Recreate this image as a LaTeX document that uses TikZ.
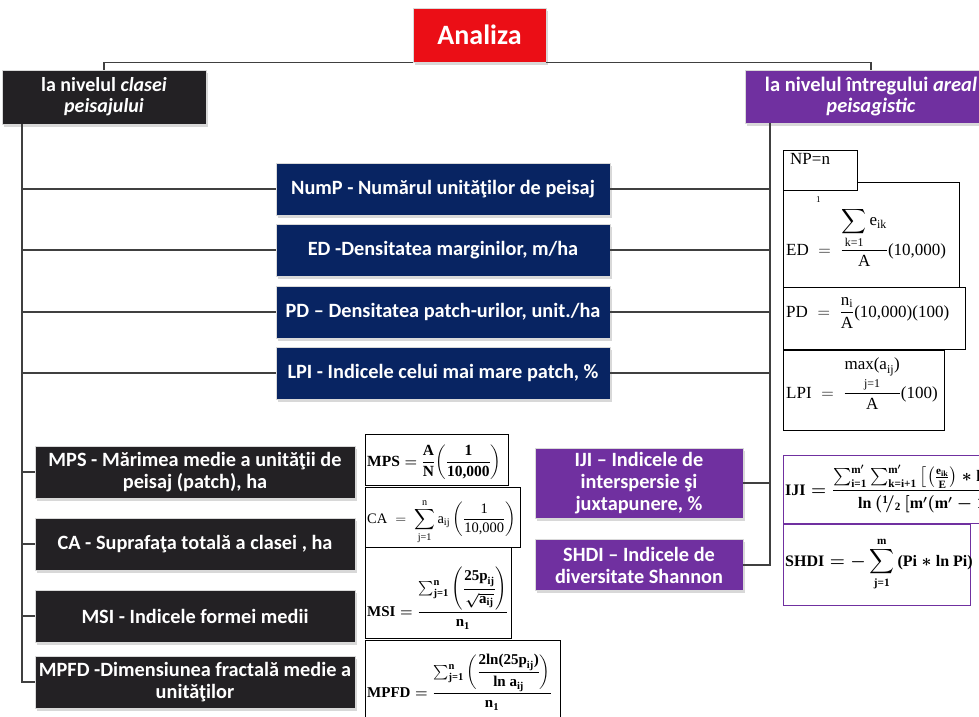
\documentclass[tikz,border=0pt]{standalone}
\usepackage{amsmath}
\usepackage{fontspec}
\setmainfont{Liberation Serif}
\newfontfamily\boxfont{Carlito}
\usetikzlibrary{shadows,calc}
\definecolor{cred}{RGB}{235,14,22}
\definecolor{cdark}{RGB}{35,33,36}
\definecolor{cnavy}{RGB}{8,36,98}
\definecolor{cpurple}{RGB}{112,48,160}
\definecolor{cline}{RGB}{64,64,64}
\newcommand\tx[1]{\text{#1}}
\begin{document}
\begin{tikzpicture}[x=1pt,y=-1pt,
  hbox/.style={text=white, align=center, inner sep=0pt, draw=gray!30, line width=0.8pt,
    font=\boxfont\bfseries\fontsize{20.3}{22}\selectfont,
    drop shadow={shadow xshift=1.5pt,shadow yshift=-2.5pt,fill=black!30}},
  conn/.style={draw=cline, line width=1.8pt},
  fbox/.style={draw=black, fill=white, line width=0.8pt, anchor=north west, inner sep=0pt},
  ftext/.style={anchor=base west, inner sep=0pt, font=\fontsize{17}{20}\selectfont},
  ftextb/.style={anchor=base west, inner sep=0pt, font=\fontsize{16}{19}\selectfont\bfseries\boldmath}]
\path[use as bounding box] (0,0) rectangle (979,716);
\clip (0,0) rectangle (979,716);
\fill[white] (0,0) rectangle (979,716);

% title boxes
\node[hbox, fill=cred, minimum width=133pt, minimum height=54pt,
  font=\boxfont\bfseries\fontsize{28}{30}\selectfont] (ana) at (479.5,35) {Analiza};
\node[hbox, fill=cdark, minimum width=204pt, minimum height=54pt,
  font=\boxfont\bfseries\fontsize{20}{21}\selectfont] (lt) at (104,97) {la nivelul \textit{clasei}\\\textit{peisajului}};
\node[hbox, fill=cpurple, minimum width=252pt, minimum height=53pt,
  font=\boxfont\bfseries\fontsize{20.5}{21}\selectfont] (rt) at (871,96.5) {la nivelul întregului \textit{areal}\\\textit{peisagistic}};

% blue boxes
\node[hbox, fill=cnavy, minimum width=334pt, minimum height=52pt] (nump) at (443,189) {NumP - Numărul unităţilor de peisaj};
\node[hbox, fill=cnavy, minimum width=334pt, minimum height=52pt] (ed) at (443,250) {ED -Densitatea marginilor, m/ha};
\node[hbox, fill=cnavy, minimum width=334pt, minimum height=52pt] (pd) at (443,312) {PD – Densitatea patch-urilor, unit./ha};
\node[hbox, fill=cnavy, minimum width=334pt, minimum height=52pt] (lpi) at (443,373) {LPI - Indicele celui mai mare patch, \%};

% black boxes
\node[hbox, fill=cdark, minimum width=320pt, minimum height=52pt] (mps) at (195,472) {MPS - Mărimea medie a unităţii de\\peisaj (patch), ha};
\node[hbox, fill=cdark, minimum width=320pt, minimum height=52pt] (ca) at (195,544) {CA - Suprafaţa totală a clasei , ha};
\node[hbox, fill=cdark, minimum width=320pt, minimum height=52pt] (msi) at (195,616) {MSI - Indicele formei medii};
\node[hbox, fill=cdark, minimum width=320pt, minimum height=52pt] (mpfd) at (195,682) {MPFD -Dimensiunea fractală medie a\\unităţilor};

% purple boxes
\node[hbox, fill=cpurple, minimum width=208pt, minimum height=70pt] (iji) at (639,483) {IJI – Indicele de\\interspersie şi\\juxtapunere, \%};
\node[hbox, fill=cpurple, minimum width=208pt, minimum height=51pt] (shdi) at (639,565) {SHDI – Indicele de\\diversitate Shannon};

% connectors
\coordinate (lv) at (22,124);
\coordinate (rv) at (770,123);
\draw[conn] (ana.south west) -| (lt.north);
\draw[conn] (ana.south east) -| (rt.north);
\draw[conn] (lt.south -| lv) |- (mpfd.west);
\foreach \n in {nump,ed,pd,lpi,mps,ca,msi} \draw[conn] (lv |- \n.west) -- (\n.west);
\draw[conn] (rt.south -| rv) |- (shdi.east);
\foreach \n in {nump,ed,pd,lpi,iji} \draw[conn] (\n.east) -- (\n.east -| rv);

% formula boxes right
\node[fbox, minimum width=176pt, minimum height=105pt] (bED) at (783,182) {};
\node[ftext] (fED) at (786,255) {$\tx{ED}\;=\;\dfrac{\displaystyle\sum_{\tx{k=1}}\tx{e}_{\tx{ik}}}{\tx{A}}\tx{(10,000)}$};
\node[fbox, minimum width=74pt, minimum height=40pt] (bNP) at (783,150) {};
\node[ftext] (fNP) at (790,164) {NP=n};
\node[ftext, font=\fontsize{9}{9}\selectfont] (fone) at (816,202) {1};
\node[fbox, minimum width=182pt, minimum height=62pt] (bPD) at (783,287) {};
\node[ftext] (fPD) at (786,317) {$\tx{PD}\;=\;\dfrac{\tx{n}_{\tx{i}}}{\tx{A}}\tx{(10,000)(100)}$};
\node[fbox, minimum width=161pt, minimum height=80pt] (bLPI) at (783,350) {};
\node[ftext] (fLPI) at (786,398) {$\tx{LPI}\;=\;\dfrac{\underset{\tx{j=1}}{\tx{max(a}_{\tx{ij}}\tx{)}}}{\tx{A}}\tx{(100)}$};
\node[fbox, draw=cpurple, minimum width=220pt, minimum height=68pt] (bIJI) at (783,455) {};
\node[ftextb] (fIJI) at (785,495) {$\tx{IJI} = \dfrac{\sum_{\tx{i=1}}^{\tx{m}'}\sum_{\tx{k=i+1}}^{\tx{m}'}\left[\left(\frac{\tx{e}_{\tx{ik}}}{\tx{E}}\right)\ast\tx{ln}\left(\frac{\tx{e}_{\tx{ik}}}{\tx{E}}\right)\right]}{\tx{ln}\left({}^{\tx{1}}\!/_{\tx{2}}\,[\tx{m}'(\tx{m}'-\tx{1})]\right)}\tx{(100)}$};
\node[fbox, draw=cpurple, minimum width=187pt, minimum height=81pt] (bSHDI) at (783,524) {};
\node[ftextb] (fSHDI) at (785,566) {$\tx{SHDI} = -\displaystyle\sum_{\tx{j=1}}^{\tx{m}}\tx{(Pi}\ast\tx{ln Pi)}$};

% formula boxes middle
\node[fbox, minimum width=143pt, minimum height=51pt] (bMPS) at (365,434) {};
\node[ftextb, font=\fontsize{15.5}{18}\selectfont\bfseries\boldmath] (fMPS) at (367,466) {$\tx{MPS} = \dfrac{\tx{A}}{\tx{N}}\!\left(\dfrac{\tx{1}}{\tx{10,000}}\right)$};
\node[fbox, minimum width=155pt, minimum height=60pt] (bCA) at (365,487) {};
\node[ftext, font=\fontsize{14.5}{17}\selectfont] (fCA) at (367,523) {$\tx{CA}\;=\;\displaystyle\sum_{\tx{j=1}}^{\tx{n}}\tx{a}_{\tx{ij}}\left(\dfrac{\tx{1}}{\tx{10,000}}\right)$};
\node[fbox, minimum width=146pt, minimum height=91pt] (bMSI) at (365,547) {};
\node[ftextb, font=\fontsize{15}{18}\selectfont\bfseries\boldmath] (fMSI) at (367,616) {$\tx{MSI} = \dfrac{\sum_{\tx{j=1}}^{\tx{n}}\left(\dfrac{\tx{25p}_{\tx{ij}}}{\sqrt{\tx{a}_{\tx{ij}}}}\right)}{\tx{n}_{\tx{1}}}$};
\node[fbox, minimum width=195pt, minimum height=90pt] (bMPFD) at (365,640) {};
\node[ftextb, font=\fontsize{15}{18}\selectfont\bfseries\boldmath] (fMPFD) at (367,697) {$\tx{MPFD} = \dfrac{\sum_{\tx{j=1}}^{\tx{n}}\left(\dfrac{\tx{2ln(25p}_{\tx{ij}}\tx{)}}{\tx{ln a}_{\tx{ij}}}\right)}{\tx{n}_{\tx{1}}}$};
\end{tikzpicture}
\end{document}
